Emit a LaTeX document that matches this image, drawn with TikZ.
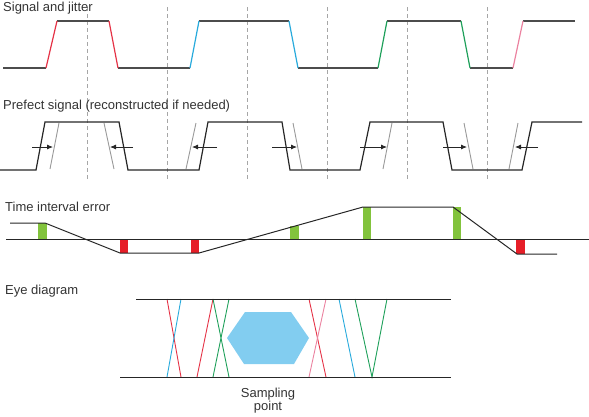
\documentclass[tikz,border=0pt]{standalone}
\usepackage{fontspec}
\setmainfont{Liberation Sans}
\usepackage{tikz}
\usetikzlibrary{arrows.meta}

\definecolor{sigred}{RGB}{229,50,70}
\definecolor{sigblue}{RGB}{40,170,220}
\definecolor{siggreen}{RGB}{30,160,90}
\definecolor{sigpink}{RGB}{235,130,160}
\definecolor{barg}{RGB}{130,195,60}
\definecolor{barr}{RGB}{230,30,40}
\definecolor{eyefill}{RGB}{130,205,240}

\tikzset{
  title/.style={anchor=base west, inner sep=0pt, font=\fontsize{13}{15}\selectfont, text=black!80},
  sig/.style={line width=1.2pt, draw=black!70},
  perfect/.style={line width=1.2pt, draw=black!85},
  ghost/.style={line width=0.9pt, draw=black!40},
  offset/.style={line width=0.8pt, draw=black!85, -{Latex[length=6pt,width=5pt]}},
  clock/.style={line width=0.9pt, draw=black!35, dash pattern=on 4pt off 3pt},
  eye/.style={line width=0.9pt}
}

\begin{document}
    \begin{tikzpicture}[x=1pt, y=-1pt]
      \useasboundingbox (0,0) rectangle (589,416);
      % clock lines
      \foreach \x in {87,167,247,327,407,487}
        \draw[clock] (\x,7) -- (\x,180);

      \node[title] (t1) at (3,11) {Signal and jitter};
      \coordinate (a0) at (3,68);
      \draw[sig] (a0) -- (46,68) (57,21) -- (109,21) (118,68) -- (190,68)
        (199,21) -- (289,21) (298,68) -- (378,68) (387,21) -- (461,21)
        (470,68) -- (513,68) (523,21) -- (575,21);
      \draw[sig, draw=sigred] (46,68) -- (57,21) (109,21) -- (118,68);
      \draw[sig, draw=sigblue] (190,68) -- (199,21) (289,21) -- (298,68);
      \draw[sig, draw=siggreen] (378,68) -- (387,21) (461,21) -- (470,68);
      \draw[sig, draw=sigpink] (513,68) -- (523,21);

      \node[title] (t2) at (3,109) {Prefect signal (reconstructed if needed)};
      \foreach \xa/\xb in {50/59,114/104,186/196,302/293,383/392,473/464,509/518}
        \draw[ghost] (\xa,169) -- (\xb,123);
      \draw[perfect] (0,170) -- (36,170) -- (45,122) -- (119,122) -- (128,170)
        -- (199,170) -- (208,122) -- (282,122) -- (290,170) -- (360,170)
        -- (370,122) -- (443,122) -- (452,170) -- (522,170) -- (532,122) -- (582,122);
      \foreach \xa/\xb in {32/53,133/110,217/192,272/297,360/387,443/467,538/515}
        \draw[offset] (\xa,147) -- (\xb,147);

      \node[title] (t3) at (5,211) {Time interval error};
      \fill[barg] (38,223) rectangle (47,239);
      \fill[barr] (120,239) rectangle (128,253);
      \fill[barr] (191,239) rectangle (199,253);
      \fill[barg] (290,226) rectangle (299,239);
      \fill[barg] (363,207) rectangle (371,239);
      \fill[barg] (453,207) rectangle (461,239);
      \fill[barr] (516,239) rectangle (525,254);
      \draw[sig, line width=1pt, draw=black!85] (6,239) -- (589,239);
      \draw[sig, line width=1pt, draw=black!85] (10,223) -- (45,223) -- (120,253) -- (199,253)
        -- (363,207) -- (453,207) -- (517,254) -- (557,254);

      \node[title] (t4) at (5,294) {Eye diagram};
      \fill[eyefill] (227,338) -- (245,312) -- (291,312) -- (309,338) -- (294,364) -- (244,364) -- cycle;
      \draw[eye, sigred] (167,299) -- (181,377) (213,299) -- (197,377) (309,299) -- (326,377);
      \draw[eye, sigblue] (181,299) -- (167,377) (339,299) -- (355,377);
      \draw[eye, siggreen] (213,299) -- (229,377) (229,299) -- (213,377)
        (355,299) -- (372,377) -- (387,299);
      \draw[eye, sigpink] (326,299) -- (309,377);
      \draw[sig, line width=1pt, draw=black!85] (136,299) -- (451,299);
      \draw[sig, line width=1pt, draw=black!85] (120,377) -- (451,377);
      \node[title, anchor=base, align=center, font=\fontsize{13}{12.5}\selectfont] (sp) at (268,410) {Sampling\\point};
    \end{tikzpicture}
\end{document}
